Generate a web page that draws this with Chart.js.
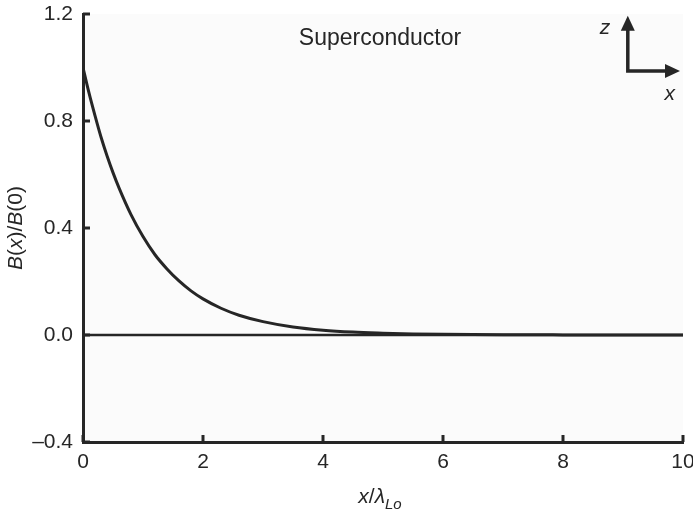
<!DOCTYPE html>
<html>
<head>
<meta charset="utf-8">
<script src="https://cdn.jsdelivr.net/npm/chart.js@4"></script>
<style>
  html, body { margin: 0; padding: 0; background: #fff; }
  #wrap { width: 693px; height: 514px; }
</style>
</head>
<body>
<div id="wrap"><canvas id="field"></canvas></div>
<script>
// B(x)/B(0)
const xPos = [0, 0.1, 0.2, 0.3, 0.4, 0.5, 0.6, 0.8, 1.0, 1.2, 1.4, 1.6, 1.8, 2.0, 2.3, 2.6, 3.0, 3.5, 4.0, 4.5, 5.0, 5.5, 6.0, 7.0, 8.0, 9.0, 10.0];
const bRatio = [1.0, 0.905, 0.82, 0.74, 0.67, 0.607, 0.55, 0.45, 0.368, 0.30, 0.247, 0.202, 0.165, 0.135, 0.10, 0.074, 0.05, 0.03, 0.018, 0.011, 0.007, 0.004, 0.0025, 0.001, 0.0004, 0.0001, 0];
const zeroX = [0, 10];
const zeroY = [0, 0];
const xTicks = [0, 2, 4, 6, 8, 10];
const yTicks = [-0.4, 0.0, 0.4, 0.8, 1.2];

const FONT = '"Liberation Sans", Arial, sans-serif';
const INK = '#262626';

const toPts = (xs, ys) => xs.map((x, i) => ({ x: x, y: ys[i] }));

// draws the inward tick marks, axis titles and the label / axes glyph
const decor = {
  id: 'decor',
  beforeDraw(chart) {
    const { ctx, chartArea: a } = chart;
    ctx.save();
    ctx.fillStyle = '#fbfbfb';
    ctx.fillRect(a.left, a.top, a.right - a.left, a.bottom - a.top);
    ctx.restore();
  },
  afterDraw(chart) {
    const { ctx, chartArea: a, scales } = chart;
    const sx = scales.x, sy = scales.y;
    ctx.save();
    ctx.strokeStyle = INK;
    ctx.fillStyle = INK;
    ctx.lineWidth = 3;
    // inward ticks
    xTicks.forEach(v => {
      const px = sx.getPixelForValue(v);
      ctx.beginPath(); ctx.moveTo(px, a.bottom); ctx.lineTo(px, a.bottom - 7); ctx.stroke();
    });
    yTicks.forEach(v => {
      const py = sy.getPixelForValue(v);
      ctx.beginPath(); ctx.moveTo(a.left, py); ctx.lineTo(a.left + 7, py); ctx.stroke();
    });

    // mixed-style text helper
    const run = (parts, cx, cy) => {
      let w = 0;
      parts.forEach(p => { ctx.font = p.f; p.w = ctx.measureText(p.t).width; w += p.w; });
      let x = cx - w / 2;
      parts.forEach(p => { ctx.font = p.f; ctx.fillText(p.t, x, cy + (p.dy || 0)); x += p.w; });
    };
    ctx.textBaseline = 'alphabetic';
    ctx.textAlign = 'left';
    const up = '21px ' + FONT, it = 'italic 21px ' + FONT, sub = 'italic 15px ' + FONT;

    // x title
    run([{ t: 'x', f: it }, { t: '/', f: up }, { t: 'λ', f: it }, { t: 'Lo', f: sub, dy: 6 }],
      (a.left + a.right) / 2 - 3, a.bottom + 61);

    // y title
    ctx.save();
    ctx.translate(a.left - 68, (a.top + a.bottom) / 2);
    ctx.rotate(-Math.PI / 2);
    run([{ t: 'B', f: it }, { t: '(', f: up }, { t: 'x', f: it }, { t: ')/', f: up },
         { t: 'B', f: it }, { t: '(0)', f: up }], 0, 7);
    ctx.restore();

    // label
    ctx.font = '23px ' + FONT;
    ctx.textAlign = 'center';
    ctx.textBaseline = 'middle';
    ctx.fillText('Superconductor', sx.getPixelForValue(4.95), sy.getPixelForValue(1.107));

    // axes glyph
    const cx = sx.getPixelForValue(9.08), cy = sy.getPixelForValue(0.987);
    const tx = sx.getPixelForValue(9.95), ty = sy.getPixelForValue(1.193);
    ctx.lineWidth = 3.5;
    ctx.beginPath();
    ctx.moveTo(cx, ty + 12); ctx.lineTo(cx, cy); ctx.lineTo(tx - 12, cy);
    ctx.stroke();
    ctx.beginPath();
    ctx.moveTo(cx, ty); ctx.lineTo(cx - 7, ty + 15); ctx.lineTo(cx + 7, ty + 15); ctx.closePath(); ctx.fill();
    ctx.beginPath();
    ctx.moveTo(tx, cy); ctx.lineTo(tx - 15, cy - 7); ctx.lineTo(tx - 15, cy + 7); ctx.closePath(); ctx.fill();
    ctx.font = 'italic 21px ' + FONT;
    ctx.fillText('z', sx.getPixelForValue(8.7), sy.getPixelForValue(1.148));
    ctx.fillText('x', sx.getPixelForValue(9.78), sy.getPixelForValue(0.90));
    ctx.restore();
  }
};

const ctx = document.getElementById('field').getContext('2d');
new Chart(ctx, {
  type: 'line',
  data: {
    datasets: [{
      label: 'zero',
      data: toPts(zeroX, zeroY),
      borderColor: INK,
      borderWidth: 2.5,
      pointRadius: 0
    }, {
      label: 'B(x)/B(0)',
      data: toPts(xPos, bRatio),
      borderColor: INK,
      borderWidth: 3,
      pointRadius: 0,
      cubicInterpolationMode: 'monotone'
    }]
  },
  options: {
    responsive: true,
    maintainAspectRatio: false,
    animation: false,
    layout: { padding: { top: 14, right: 10, left: 0, bottom: 0 } },
    plugins: { legend: { display: false }, tooltip: { enabled: false } },
    scales: {
      x: {
        type: 'linear',
        min: 0, max: 10,
        grid: { display: false, drawTicks: false },
        border: { display: true, width: 3, color: INK },
        ticks: {
          stepSize: 2, padding: 8, color: INK,
          font: { family: FONT, size: 21 }
        },
        afterFit(s) { s.height = 72; s.paddingLeft = 0; s.paddingRight = 0; }
      },
      y: {
        type: 'linear',
        min: -0.4, max: 1.2,
        grid: { display: false, drawTicks: false },
        border: { display: true, width: 3, color: INK },
        ticks: {
          stepSize: 0.4, padding: 10, color: INK,
          font: { family: FONT, size: 21 },
          callback: v => (v < -1e-9 ? '–' + Math.abs(v).toFixed(1) : Math.abs(v).toFixed(1))
        },
        afterFit(s) { s.width = 83; s.paddingTop = 0; s.paddingBottom = 0; }
      }
    }
  },
  plugins: [decor]
});
</script>
</body>
</html>
